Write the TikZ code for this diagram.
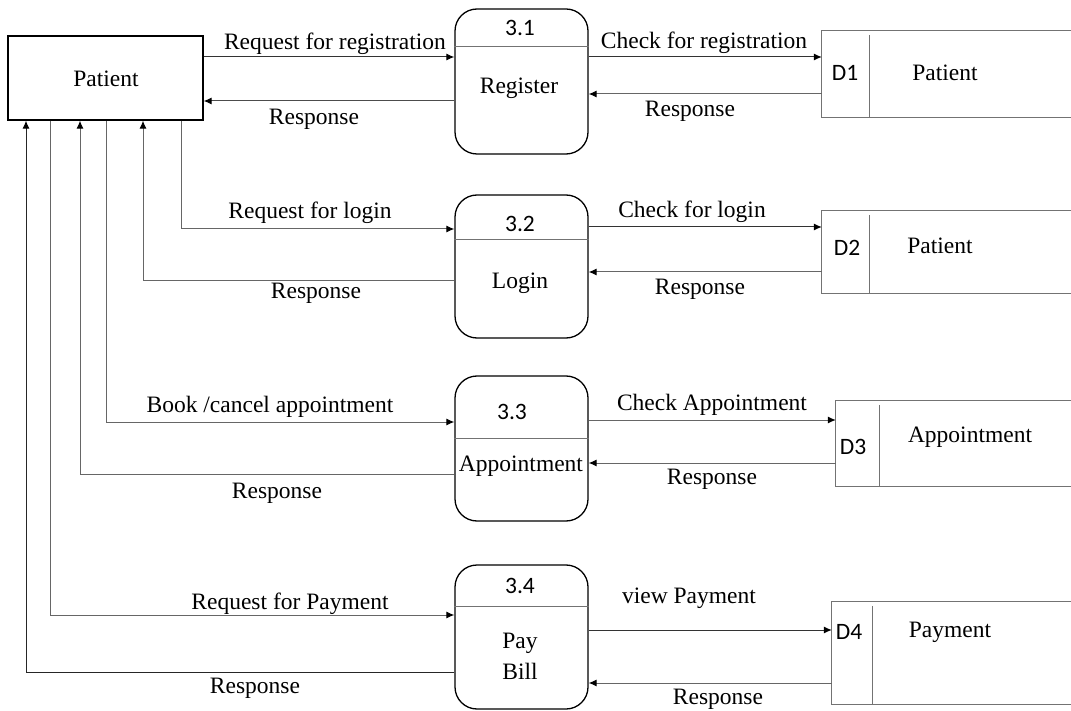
\documentclass[tikz,border=0pt]{standalone}
\usepackage{fontspec}
\setmainfont{Liberation Serif}
\newfontfamily\numfont{Carlito}
\usetikzlibrary{arrows.meta}
\begin{document}
\begin{tikzpicture}[x=1pt,y=-1pt,
  lbl/.style={font=\fontsize{23.5}{28}\selectfont, inner sep=0pt},
  numlbl/.style={font=\numfont\fontsize{23.5}{26}\selectfont, inner sep=0pt},
  proc/.style={draw=black, line width=1.3pt, rounded corners=22pt, minimum width=133pt, inner sep=0pt},
  store/.style={minimum width=#1, inner sep=0pt},
  storeline/.style={draw=black!55, line width=1pt},
  flow/.style={draw=black!60, line width=1pt, -{Latex[length=8pt,width=7pt,color=black]}},
  sep/.style={draw=black!55, line width=1pt}
]
\useasboundingbox (0,0) rectangle (1071,711);

% external entity
\node[draw=black, line width=1.3pt, minimum width=195pt, minimum height=84pt, inner sep=0pt] (patient) at (105.5,78) {};
\node[lbl] (patientlbl) at (106,79) {Patient};

% processes
\node[proc, minimum height=145pt] (p1) at (521.5,81.5) {};
\node[proc, minimum height=143pt] (p2) at (521.5,266.5) {};
\node[proc, minimum height=145pt] (p3) at (521.5,448.5) {};
\node[proc, minimum height=144pt] (p4) at (521.5,637) {};
\draw[sep] (p1.west |- 0,47) -- (p1.east |- 0,47);
\draw[sep] (p2.west |- 0,240) -- (p2.east |- 0,240);
\draw[sep] (p3.west |- 0,438) -- (p3.east |- 0,438);
\draw[sep] (p4.west |- 0,606) -- (p4.east |- 0,606);
\node[numlbl] (n1) at (520,28) {3.1};
\node[numlbl] (n2) at (520,224) {3.2};
\node[numlbl] (n3) at (512,412) {3.3};
\node[numlbl] (n4) at (520,586) {3.4};
\node[lbl] (t1) at (519,88) {Register};
\node[lbl] (t2) at (520,283) {Login};
\node[lbl] (t3) at (521,466) {Appointment};
\node[lbl, align=center] (t4) at (520,656) {Pay\\[3pt]Bill};

% data stores
\node[store=249pt, minimum height=86pt] (d1) at (946.5,74) {};
\node[store=249pt, minimum height=82pt] (d2) at (946.5,252) {};
\node[store=235pt, minimum height=85pt] (d3) at (953.5,443.5) {};
\node[store=239pt, minimum height=102pt] (d4) at (951.5,653) {};
\foreach \d/\xx in {d1/869, d2/869, d3/879, d4/872}{
  \draw[storeline] (\d.north east) -- (\d.north west) -- (\d.south west) -- (\d.south east);
  \draw[storeline] (\xx,0 |- \d.north) ++(0,4) -- (\xx,0 |- \d.south);
}
\node[numlbl] (dl1) at (845,73) {D1};
\node[lbl] (ds1) at (945,73) {Patient};
\node[numlbl] (dl2) at (847,248) {D2};
\node[lbl] (ds2) at (940,246) {Patient};
\node[numlbl] (dl3) at (853,447) {D3};
\node[lbl] (ds3) at (970,437) {Appointment};
\node[numlbl] (dl4) at (849,632) {D4};
\node[lbl] (ds4) at (950,632) {Payment};

% patient <-> processes
\draw[flow, draw=black!80] (patient.east |- 0,57) -- (p1.west |- 0,57);
\node[lbl] (l1) at (335,44) {Request for registration};
\draw[flow, draw=black!70] (p1.west |- 0,101) -- (patient.east |- 0,101);
\node[lbl] (l2) at (314,119) {Response};

\draw[flow] (patient.south -| 181,0) |- (p2.west |- 0,229);
\node[lbl] (l3) at (310,213) {Request for login};
\draw[flow] (p2.west |- 0,281) -| (patient.south -| 143,0);
\node[lbl] (l4) at (316,293) {Response};

\draw[flow] (patient.south -| 106,0) |- (p3.west |- 0,422);
\node[lbl] (l5) at (270,407) {Book /cancel appointment};
\draw[flow] (p3.west |- 0,474) -| (patient.south -| 80,0);
\node[lbl] (l6) at (277,493) {Response};

\draw[flow] (patient.south -| 50,0) |- (p4.west |- 0,615);
\node[lbl] (l7) at (290,604) {Request for Payment};
\draw[flow, draw=black!85] (p4.west |- 0,672) -| (patient.south -| 26,0);
\node[lbl] (l8) at (255,688) {Response};

% processes <-> stores
\draw[flow, draw=black!80] (p1.east |- 0,57) -- (d1.west |- 0,57);
\node[lbl] (l9) at (704,43) {Check for registration};
\draw[flow] (d1.west |- 0,94) -- (p1.east |- 0,94);
\node[lbl] (l10) at (690,111) {Response};

\draw[flow, draw=black!80] (p2.east |- 0,227) -- (d2.west |- 0,227);
\node[lbl] (l11) at (692,212) {Check for login};
\draw[flow] (d2.west |- 0,272) -- (p2.east |- 0,272);
\node[lbl] (l12) at (700,289) {Response};

\draw[flow] (p3.east |- 0,420) -- (d3.west |- 0,420);
\node[lbl] (l13) at (712,405) {Check Appointment};
\draw[flow] (d3.west |- 0,463) -- (p3.east |- 0,463);
\node[lbl] (l14) at (712,479) {Response};

\draw[flow, draw=black!80] (p4.east |- 0,630) -- (d4.west |- 0,630);
\node[lbl] (l15) at (689,598) {view Payment};
\draw[flow] (d4.west |- 0,683) -- (p4.east |- 0,683);
\node[lbl] (l16) at (718,699) {Response};
\end{tikzpicture}
\end{document}
